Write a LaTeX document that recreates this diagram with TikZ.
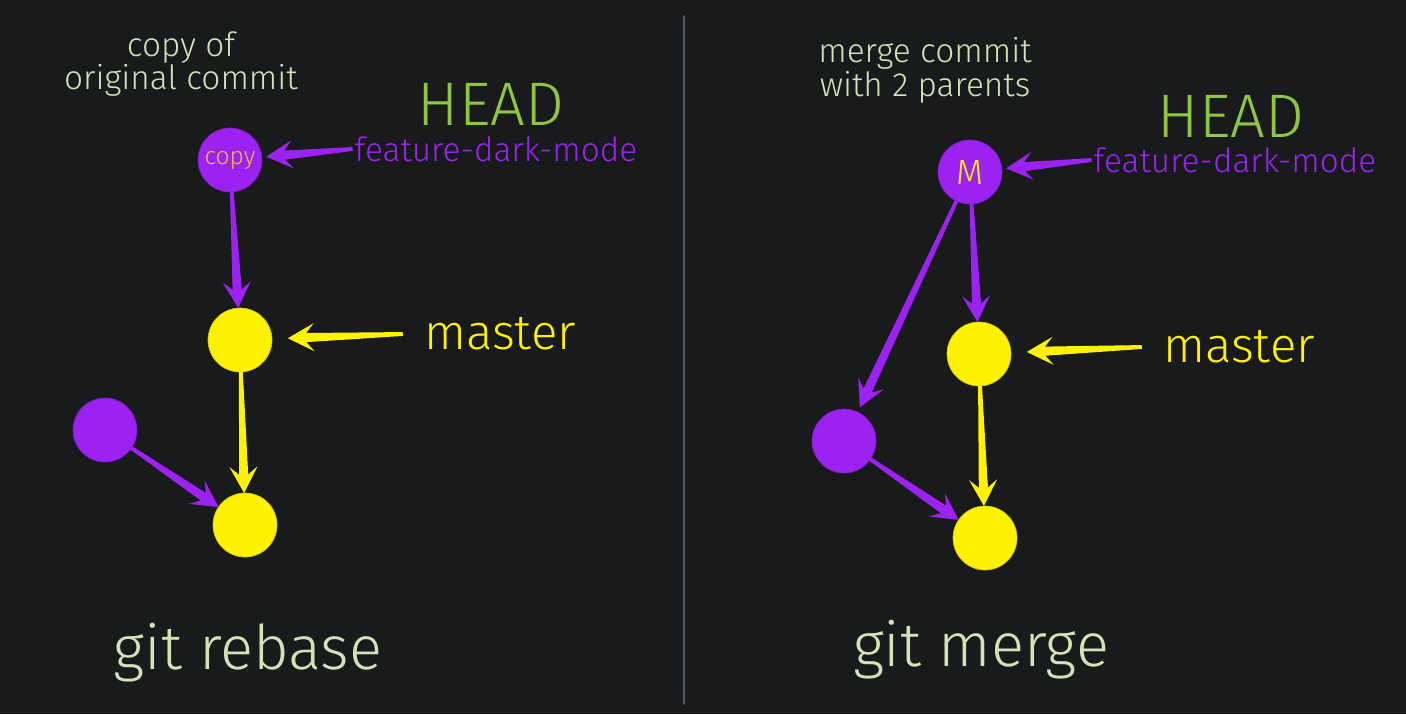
\documentclass[tikz,border=0pt]{standalone}
\usepackage{fontspec}
\setmainfont{Fira Sans Light}
\usepackage{tikz}
\usetikzlibrary{arrows,positioning,calc,backgrounds}

\definecolor{bgdark}{HTML}{181A1C}
\definecolor{branchpurple}{HTML}{9B22F0}
\definecolor{masteryellow}{HTML}{FFF200}
\definecolor{headgreen}{HTML}{8DC63F}
\definecolor{notegreen}{HTML}{D2E3B8}
\definecolor{copyorange}{HTML}{F2B83A}
\definecolor{dividergrey}{HTML}{55585B}

% tapered arrow: [gap]{colour}{from}{to}
\newcommand{\commitarrow}[4][0pt]{%
  \path (#3) -- (#4) coordinate[pos=0] (ts) coordinate[pos=1] (tx);
  \coordinate (te) at ($(tx)!#1!(ts)$);
  \coordinate (tn) at ($(te)!10.5pt!(ts)$);
  \coordinate (tb) at ($(te)!15pt!(ts)$);
  \fill[#2] ($(ts)!1.1pt!90:(te)$) -- ($(tn)!2.6pt!90:(te)$) -- ($(tb)!8pt!90:(te)$) -- (te)
    -- ($(tb)!8pt!-90:(te)$) -- ($(tn)!2.6pt!-90:(te)$) -- ($(ts)!1.1pt!-90:(te)$) -- cycle;
}

\begin{document}
\begin{tikzpicture}[x=0.02cm,y=-0.02cm]
  \tikzstyle{commit}=[circle,minimum size=1.28cm,inner sep=0pt,outer sep=0pt]
  \tikzstyle{purple commit}=[commit,fill=branchpurple,draw=branchpurple!80!black,thin]
  \tikzstyle{yellow commit}=[commit,fill=masteryellow,draw=masteryellow!80!black,thin]
  \tikzstyle{note}=[text=notegreen,align=center,font=\fontsize{19}{18}\selectfont]
  \tikzstyle{headlabel}=[text=headgreen,inner sep=0pt,font=\fontsize{35}{38}\selectfont]
  \tikzstyle{branchlabel}=[text=branchpurple,inner sep=0pt,inner xsep=1pt,font=\fontsize{19}{20}\selectfont]
  \tikzstyle{masterlabel}=[text=masteryellow,inner sep=1pt,inner xsep=12pt,font=\fontsize{28}{30}\selectfont]
  \tikzstyle{cmdlabel}=[text=notegreen,inner sep=1pt,font=\fontsize{35}{38}\selectfont]

  \fill[bgdark] (0,0) rectangle (1406,714);
  \draw[dividergrey,line width=1.1pt,line cap=round] (684,16) -- (684,704);

  % git rebase
  \node[purple commit]  (copy)    at (230,160) {\textcolor{copyorange}{\fontsize{14}{14}\selectfont copy}};
  \node[yellow commit]  (masterA) at (240,340) {};
  \node[yellow commit]  (rootA)   at (245,525) {};
  \node[purple commit]  (featA)   at (105,430) {};

  \node[note]        (noteA) at (181,64)  {copy of\\original commit};
  \node[headlabel]   (headA) at (491,104) {HEAD};
  \node[branchlabel] (fdmA)  at (496,149) {feature-dark-mode};
  \node[masterlabel] (mlabA) at (500,334) {master};
  \node[cmdlabel]    (cmdA)  at (248,653) {git rebase};

  \commitarrow[2.5pt]{branchpurple}{fdmA.west}{copy}
  \commitarrow{branchpurple}{copy}{masterA}
  \commitarrow[9pt]{masteryellow}{mlabA.west}{masterA}
  \commitarrow{masteryellow}{masterA}{rootA}
  \commitarrow{branchpurple}{featA}{rootA}

  % git merge
  \node[purple commit]  (merge)   at (970,172) {\textcolor{masteryellow}{\fontsize{20}{20}\selectfont M}};
  \node[yellow commit]  (masterB) at (979,354) {};
  \node[yellow commit]  (rootB)   at (985,538) {};
  \node[purple commit]  (featB)   at (844,441) {};

  \node[note]        (noteB) at (925,70)   {merge commit\\with 2 parents};
  \node[headlabel]   (headB) at (1231,116) {HEAD};
  \node[branchlabel] (fdmB)  at (1235,160) {feature-dark-mode};
  \node[masterlabel] (mlabB) at (1239,347) {master};
  \node[cmdlabel]    (cmdB)  at (981,650)  {git merge};

  \commitarrow[2.5pt]{branchpurple}{fdmB.west}{merge}
  \commitarrow{branchpurple}{merge}{masterB}
  \commitarrow[3pt]{branchpurple}{merge}{featB}
  \commitarrow[9pt]{masteryellow}{mlabB.west}{masterB}
  \commitarrow{masteryellow}{masterB}{rootB}
  \commitarrow{branchpurple}{featB}{rootB}
\end{tikzpicture}
\end{document}
